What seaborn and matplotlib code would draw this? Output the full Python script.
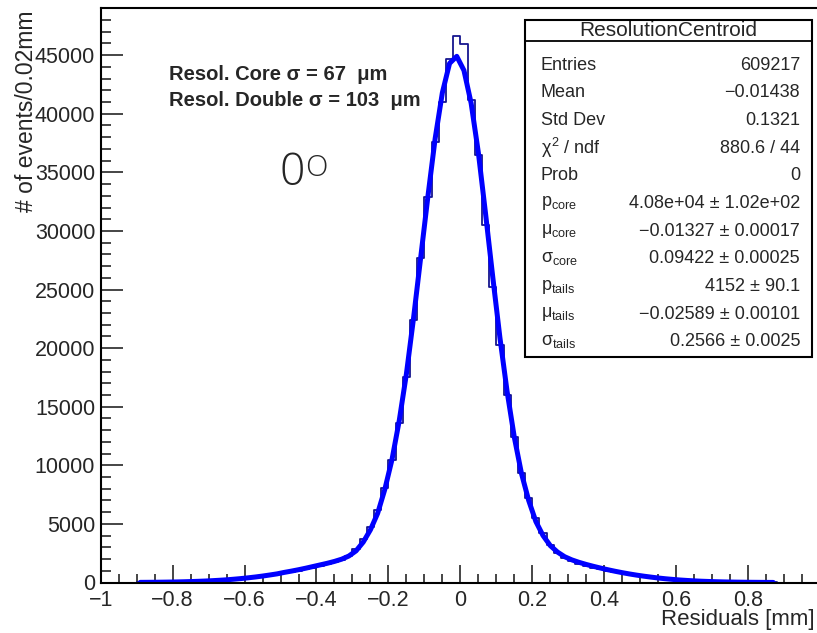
import numpy as np
import pandas as pd
import matplotlib
matplotlib.use("Agg")
import matplotlib.pyplot as plt
from matplotlib.patches import Rectangle
from matplotlib.lines import Line2D
from matplotlib.ticker import MultipleLocator
import seaborn as sns

W, H = 817, 633

# histogram: 0.02 mm bins, first bin starts at -0.90
BIN_LO = -0.90
BIN_WIDTH = 0.02
counts = [15, 20, 25, 35, 45, 55, 70, 85, 105, 125,
          150, 180, 215, 260, 320, 380, 450, 520, 600, 690,
          790, 890, 1000, 1120, 1250, 1390, 1560, 1740, 1960, 2250,
          2850, 3700, 4700, 6200, 8040, 10450, 13580, 17560, 22400, 27660,
          32920, 37610, 41020, 44670, 46660,
          45920, 41170, 36480, 30500, 25240, 20260, 16000, 12440, 9320, 7180,
          5480, 4200, 3200, 2490, 2100, 1850, 1620, 1420, 1260, 1120,
          1000, 900, 820, 760, 640, 540, 450, 370, 300, 240,
          195, 160, 130, 105, 85, 70, 55, 45, 35, 28,
          22, 18, 14, 10]

# double gaussian fit read at the bin centres
fit_y = [12, 16, 21, 28, 37, 48, 62, 80, 100, 125,
         155, 190, 230, 280, 335, 400, 470, 550, 640, 735,
         860, 970, 1090, 1220, 1360, 1500, 1640, 1800, 1990, 2260,
         2700, 3450, 4500, 5900, 7950, 10500, 13800, 17800, 22600, 27800,
         33000, 37900, 41800, 44300, 44900,
         43700, 40900, 36700, 31500, 26100, 20900, 16300, 12400, 9300, 7000,
         5200, 4000, 3150, 2600, 2200, 1930, 1720, 1540, 1380, 1230,
         1090, 960, 840, 730, 630, 540, 460, 385, 320, 265,
         215, 175, 140, 110, 88, 68, 52, 40, 30, 23,
         17, 13, 9, 7]

stat_title = "ResolutionCentroid"
stat_labels = ["Entries", "Mean", "Std Dev", r"$\chi^2$ / ndf", "Prob",
               r"p$_{\rm core}$", r"$\mu_{\rm core}$", r"$\sigma_{\rm core}$",
               r"p$_{\rm tails}$", r"$\mu_{\rm tails}$", r"$\sigma_{\rm tails}$"]
stat_values = ["609217", "\u22120.01438", "0.1321", "880.6 / 44", "0",
               "4.08e+04 \u00b1 1.02e+02", "\u22120.01327 \u00b1 0.00017",
               "0.09422 \u00b1 0.00025", "4152 \u00b1 90.1",
               "\u22120.02589 \u00b1 0.00101", "0.2566 \u00b1 0.0025"]

resol_lines = ["Resol. Core \u03c3 = 67  \u03bcm", "Resol. Double \u03c3 = 103  \u03bcm"]

sns.set_style("ticks")
plt.rcParams["font.family"] = ["Liberation Sans", "DejaVu Sans"]
plt.rcParams["mathtext.fontset"] = "custom"
plt.rcParams["mathtext.rm"] = "Liberation Sans"
plt.rcParams["mathtext.it"] = "Liberation Sans"
plt.rcParams["axes.unicode_minus"] = True

centers = np.round(BIN_LO + BIN_WIDTH * (np.arange(len(counts)) + 0.5), 3)
edges = [round(BIN_LO + BIN_WIDTH * i, 3) for i in range(len(counts) + 1)]
df = pd.DataFrame({"residual": centers, "count": counts, "fit": fit_y})

fig = plt.figure(figsize=(W / 100, H / 100), dpi=100)


def fx(px):
    return px / W


def fy(py):
    return 1 - py / H


ax = fig.add_axes([fx(100.7), fy(582.5), (820 - 100.7) / W, (582.5 - 8.3) / H])

sns.histplot(data=df, x="residual", weights="count", bins=edges, element="step",
             fill=False, color="#16168f", linewidth=1.3, ax=ax)
sns.lineplot(data=df, x="residual", y="fit", color="#0000ff", linewidth=3.6, ax=ax)

ax.set_xlim(-1, 1)
ax.set_ylim(0, 49000)
ax.set_xlabel("")
ax.set_ylabel("")
ax.xaxis.set_major_locator(MultipleLocator(0.2))
ax.xaxis.set_minor_locator(MultipleLocator(0.05))
ax.yaxis.set_major_locator(MultipleLocator(5000))
ax.yaxis.set_minor_locator(MultipleLocator(1000))
ax.tick_params(axis="x", which="major", direction="in", length=13, width=1.2,
               labelsize=15.5, pad=5.5, top=False)
ax.tick_params(axis="x", which="minor", direction="in", length=6.5, width=1.2, top=False)
ax.tick_params(axis="y", which="major", direction="in", length=16, width=1.2,
               labelsize=15.5, pad=4, right=False)
ax.tick_params(axis="y", which="minor", direction="in", length=7.5, width=1.2, right=False)
xt = [round(v, 1) for v in ax.get_xticks() if -1.01 < v < 0.99]
ax.set_xticks(xt)
ax.set_xticklabels([f"{t:g}".replace("-", "\u2212") for t in xt])
ax.set_xlim(-1, 1)
for s in ax.spines.values():
    s.set_linewidth(1.5)
    s.set_color("black")

fig.text(fx(27), fy(10), "# of events/0.02mm", rotation=90, ha="center", va="top",
         fontsize=16.5)
fig.text(fx(815), fy(620), "Residuals [mm]", ha="right", va="center", fontsize=16)

for i, line in enumerate(resol_lines):
    fig.text(fx(169), fy(74.5 + 25.5 * i), line, ha="left", va="center",
             fontsize=14.5, fontweight="bold")

fig.text(fx(279), fy(174), "0", ha="left", va="center", fontsize=32,
         family=["Open Sans", "DejaVu Sans"], fontweight="light")
fig.text(fx(305), fy(168.5), "O", ha="left", va="center", fontsize=21,
         family=["Open Sans", "DejaVu Sans"], fontweight="light")

# stats box
fig.add_artist(Rectangle((fx(525), fy(357)), (812 - 525) / W, (357 - 20) / H,
                         transform=fig.transFigure, facecolor="white",
                         edgecolor="black", linewidth=1.5, zorder=5))
fig.add_artist(Line2D([fx(525), fx(812)], [fy(41), fy(41)],
                      transform=fig.transFigure, color="black", linewidth=1.3, zorder=6))
fig.text(fx(668.5), fy(31), stat_title, ha="center", va="center", fontsize=15, zorder=7)
for i, (lab, val) in enumerate(zip(stat_labels, stat_values)):
    y = fy(65 + 27.7 * i)
    fig.text(fx(541), y, lab, ha="left", va="center", fontsize=13, zorder=7)
    fig.text(fx(800), y, val, ha="right", va="center", fontsize=13, zorder=7)

fig.savefig("out.png", dpi=100)
